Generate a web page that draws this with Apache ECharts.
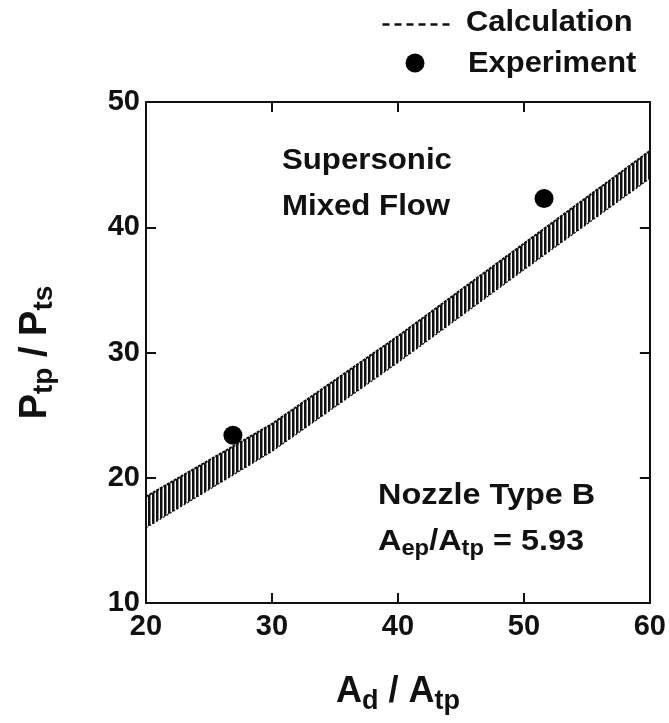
<!DOCTYPE html>
<html>
<head>
<meta charset="utf-8">
<script src="https://cdn.jsdelivr.net/npm/echarts@6/dist/echarts.min.js"></script>
<style>
html,body{margin:0;padding:0;background:#fff;}
#chart{width:669px;height:723px;}
</style>
</head>
<body>
<div id="chart"></div>
<script>
// ---- data ----
const xTicks = [20, 30, 40, 50, 60];
const yTicks = [10, 20, 30, 40, 50];
// Calculation band (hatched region): x positions, lower and upper edge of band
const bandX = [20, 30, 40, 50, 60];
const bandLower = [16.0, 22.1, 29.2, 36.6, 43.9];
const bandUpper = [18.5, 24.3, 31.3, 38.7, 46.1];
// Experiment points
const expX = [26.9, 51.6];
const expY = [23.4, 42.3];

const FONT = '"Liberation Sans", Arial, Helvetica, sans-serif';
const INK = '#111';

// hatch pattern for band
const pc = document.createElement('canvas');
pc.width = 4; pc.height = 4;
const pctx = pc.getContext('2d');
pctx.fillStyle = '#111';
pctx.fillRect(0, 0, 2.5, 4);

const chart = echarts.init(document.getElementById('chart'), null, {renderer: 'canvas'});

const axisCommon = {
  type: 'value',
  axisLine: {show: true, lineStyle: {color: INK, width: 2}},
  axisTick: {show: true, inside: true, length: 10, lineStyle: {color: INK, width: 2}},
  splitLine: {show: false}
};

const option = {
  backgroundColor: '#fff',
  animation: false,
  grid: {left: 146, right: 18, top: 102, bottom: 120, containLabel: false},
  xAxis: [
    Object.assign({}, axisCommon, {
      min: 20, max: 60, interval: 10, position: 'bottom',
      axisLabel: {show: true, margin: 9, color: INK, fontFamily: FONT, fontWeight: 'bold', fontSize: 29,
        formatter: v => xTicks.includes(v) ? String(v) : ''},
      name: 'A{s|d} / A{s|tp}',
      nameLocation: 'middle', nameGap: 67,
      nameTextStyle: {color: INK, fontFamily: FONT, fontWeight: 'bold', fontSize: 36,
        rich: {s: {fontFamily: FONT, fontWeight: 'bold', fontSize: 27, color: INK, padding: [18, 0, 0, 0]}}}
    }),
    Object.assign({}, axisCommon, {
      min: 20, max: 60, interval: 10, position: 'top',
      axisLabel: {show: false}
    })
  ],
  yAxis: [
    Object.assign({}, axisCommon, {
      min: 10, max: 50, interval: 10, position: 'left',
      axisLabel: {show: true, margin: 6, color: INK, fontFamily: FONT, fontWeight: 'bold', fontSize: 29,
        formatter: v => yTicks.includes(v) ? String(v) : ''},
      name: 'P{s|tp} / P{s|ts}',
      nameLocation: 'middle', nameGap: 88, nameRotate: 90,
      nameTextStyle: {color: INK, fontFamily: FONT, fontWeight: 'bold', fontSize: 38,
        rich: {s: {fontFamily: FONT, fontWeight: 'bold', fontSize: 28, color: INK, padding: [16, 0, 0, 0]}}}
    }),
    Object.assign({}, axisCommon, {
      min: 10, max: 50, interval: 10, position: 'right',
      axisLabel: {show: false}
    })
  ],
  series: [
    {
      name: 'Calculation',
      type: 'custom',
      xAxisIndex: 0, yAxisIndex: 0,
      data: bandX.map((x, i) => [x, bandLower[i], bandUpper[i]]),
      encode: {x: 0, y: [1, 2]},
      renderItem: function (params, api) {
        if (params.dataIndex !== 0) return null;
        const top = bandX.map((x, i) => api.coord([x, bandUpper[i]]));
        const bot = bandX.map((x, i) => api.coord([x, bandLower[i]]));
        return {
          type: 'group',
          children: [
            {type: 'polygon', shape: {points: top.concat(bot.slice().reverse())},
              style: {fill: {image: pc, repeat: 'repeat'}, stroke: null}},
            {type: 'polyline', shape: {points: top},
              style: {fill: null, stroke: '#111', lineWidth: 2, lineDash: [3, 1]}},
            {type: 'polyline', shape: {points: bot},
              style: {fill: null, stroke: '#111', lineWidth: 1.2, lineDash: [2, 2]}}
          ]
        };
      },
      z: 2
    },
    {
      name: 'Experiment',
      type: 'scatter',
      xAxisIndex: 0, yAxisIndex: 0,
      data: expX.map((x, i) => [x, expY[i]]),
      symbol: 'circle', symbolSize: 19,
      itemStyle: {color: '#000', opacity: 1},
      z: 5
    }
  ],
  graphic: [
    // legend
    {type: 'line', left: 380, top: 22, shape: {x1: 0, y1: 0, x2: 70, y2: 0},
      style: {stroke: INK, lineWidth: 2.5, lineDash: [7, 5]}},
    {type: 'text', x: 466, y: 23, scaleX: 1.03, style: {text: 'Calculation', fill: INK, font: 'bold 30px ' + FONT, verticalAlign: 'middle', align: 'left'}},
    {type: 'circle', shape: {cx: 415, cy: 63, r: 9.5}, style: {fill: '#000'}},
    {type: 'text', x: 468, y: 64, scaleX: 1.03, style: {text: 'Experiment', fill: INK, font: 'bold 30px ' + FONT, verticalAlign: 'middle', align: 'left'}},
    // annotations
    {type: 'text', x: 282, y: 161, scaleX: 1.04, style: {text: 'Supersonic', fill: INK, font: 'bold 30px ' + FONT, verticalAlign: 'middle', align: 'left'}},
    {type: 'text', x: 282, y: 207, scaleX: 1.04, style: {text: 'Mixed Flow', fill: INK, font: 'bold 30px ' + FONT, verticalAlign: 'middle', align: 'left'}},
    {type: 'text', x: 378, y: 496, scaleX: 1.08, style: {text: 'Nozzle Type B', fill: INK, font: 'bold 30px ' + FONT, verticalAlign: 'middle', align: 'left'}},
    {type: 'text', x: 378, y: 542, scaleX: 1.08, style: {
      text: 'A{s|ep}/A{s|tp} = 5.93', fill: INK, font: 'bold 30px ' + FONT, verticalAlign: 'middle', align: 'left',
      rich: {s: {font: 'bold 22px ' + FONT, fill: INK, padding: [14, 0, 0, 0]}}}}
  ]
};
chart.setOption(option);
</script>
</body>
</html>
